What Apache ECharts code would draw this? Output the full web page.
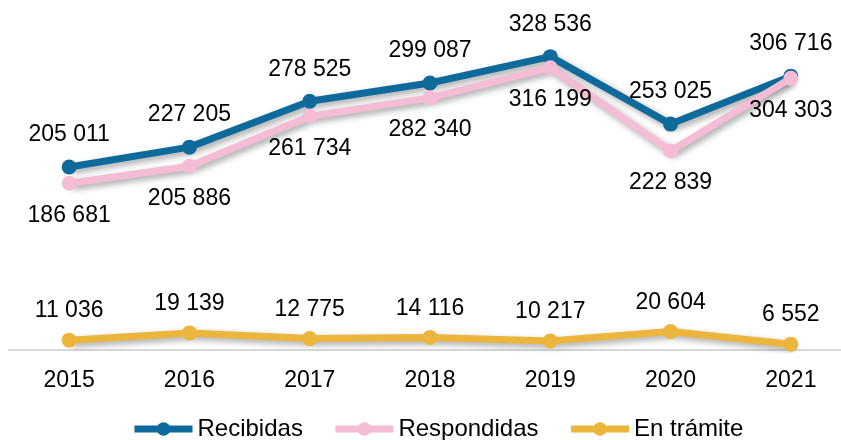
<!DOCTYPE html>
<html>
<head>
<meta charset="utf-8">
<script src="https://cdn.jsdelivr.net/npm/echarts@6/dist/echarts.min.js"></script>
<style>
  html, body { margin: 0; padding: 0; background: #fff; }
  #chart { width: 841px; height: 440px; }
</style>
</head>
<body>
<div id="chart"></div>
<script>
var years = ['2015', '2016', '2017', '2018', '2019', '2020', '2021'];
var recibidas = [205011, 227205, 278525, 299087, 328536, 253025, 306716];
var respondidas = [186681, 205886, 261734, 282340, 316199, 222839, 304303];
var enTramite = [11036, 19139, 12775, 14116, 10217, 20604, 6552];

// numbers with a space as thousands separator
function fmt(v) {
    return String(v).replace(/\B(?=(\d{3})+(?!\d))/g, ' ');
}

var font = 'Liberation Sans, Arial, sans-serif';

function lineSeries(name, data, color, pos, dist) {
    return {
        name: name,
        type: 'line',
        data: data,
        symbol: 'circle',
        symbolSize: 15,
        itemStyle: { color: color },
        lineStyle: {
            color: color,
            width: 7,
            shadowColor: 'rgba(0,0,0,0.35)',
            shadowBlur: 6,
            shadowOffsetX: 3,
            shadowOffsetY: 3
        },
        label: {
            show: true,
            position: pos,
            distance: dist,
            color: '#000',
            fontSize: 23,
            fontFamily: font,
            formatter: function (p) { return fmt(p.value); }
        },
        emphasis: { disabled: true },
        animation: false
    };
}

var myChart = echarts.init(document.getElementById('chart'));
var option = {
    grid: { left: 9, width: 842, top: 37.5, bottom: 90, outerBoundsMode: 'none' },
    legend: {
        data: ['Recibidas', 'Respondidas', 'En trámite'],
        bottom: -6,
        left: 126,
        itemWidth: 58,
        itemHeight: 17,
        itemGap: 29,
        lineStyle: { width: 7, shadowBlur: 0, shadowOffsetX: 0, shadowOffsetY: 0 },
        textStyle: { fontSize: 24, fontFamily: font, color: '#000' }
    },
    xAxis: {
        type: 'category',
        data: years,
        axisTick: { show: false },
        axisLine: { lineStyle: { color: '#d9d9d9', width: 2 } },
        axisLabel: { fontSize: 23, fontFamily: font, color: '#000', margin: 19 }
    },
    yAxis: {
        type: 'value',
        min: 0,
        max: 350000,
        show: false,
        splitLine: { show: false }
    },
    series: [
        lineSeries('Recibidas', recibidas, '#0f6a9c', 'top', 13),
        lineSeries('Respondidas', respondidas, '#f5bcd6', 'bottom', 13),
        lineSeries('En trámite', enTramite, '#ecb53b', 'top', 10)
    ]
};
myChart.setOption(option);
window.addEventListener('resize', function () {
    myChart.resize();
});
</script>
</body>
</html>
